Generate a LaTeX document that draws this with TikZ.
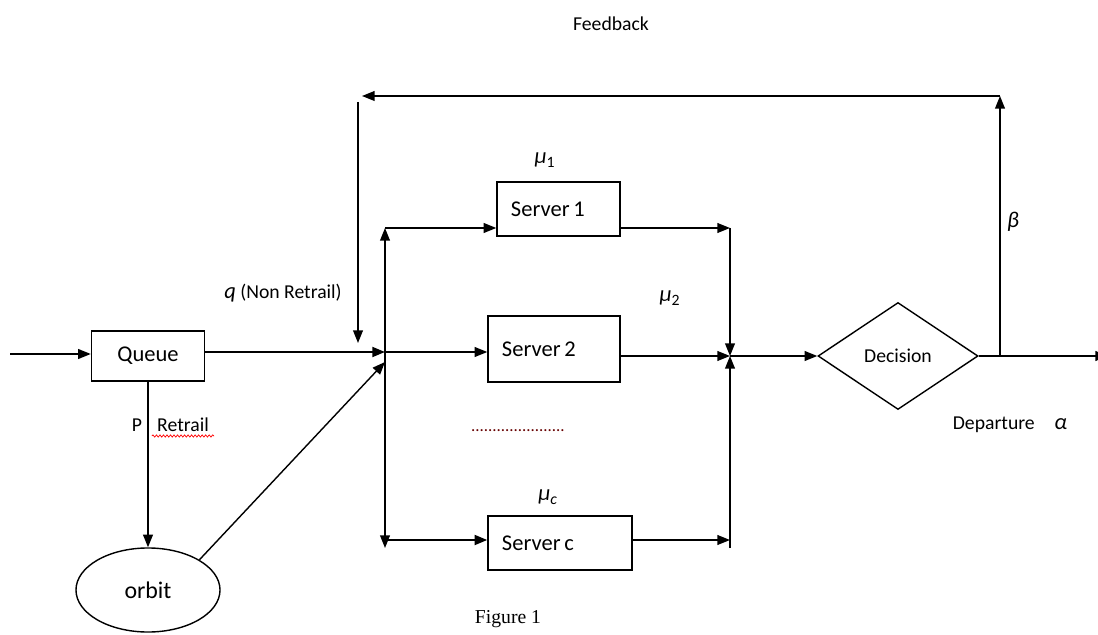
\documentclass[tikz,border=0pt]{standalone}
\usepackage{fontspec}
\setmainfont{Carlito}
\newfontfamily\figfont{Liberation Serif}
\usetikzlibrary{arrows.meta,shapes.geometric,decorations.pathmorphing}

\begin{document}
\begin{tikzpicture}[x=0.025cm, y=-0.025cm, >={Triangle[length=9pt,width=7pt]}, line width=1pt,
  box/.style={draw, inner sep=0pt, font=\fontsize{16}{19}\selectfont},
  srv/.style={draw, inner xsep=0.35cm, inner ysep=0pt, align=left, font=\fontsize{16}{19}\selectfont},
  lbl/.style={font=\fontsize{14}{17}\selectfont},
  greek/.style={font=\fontsize{16}{19}\selectfont\itshape}]
  \useasboundingbox (0,0) rectangle (1098,635);

  % Queue and orbit
  \node[box, minimum width=2.825cm, minimum height=1.25cm] (queue) at (148,356) {Queue};
  \node[draw, ellipse, minimum width=3.6cm, minimum height=2.1cm, font=\fontsize{17}{20}\selectfont] (orbit) at (148,590) {orbit};

  % Servers and decision
  \node[srv, text width=2.375cm, minimum height=1.35cm] (s1) at (558.5,209) {Server\,1};
  \node[srv, text width=2.6cm, minimum height=1.65cm] (s2) at (554,349) {Server\,2};
  \node[srv, text width=2.9cm, minimum height=1.35cm] (sc) at (560,543) {Server\,c};
  \node[draw, diamond, aspect=1.5, inner sep=0pt, minimum width=4cm, minimum height=2.675cm, lbl] (dec) at (898,356) {Decision};

  % Junction points
  \coordinate (in) at (10,354);
  \coordinate (J) at (385,352);
  \coordinate (Jo) at (385,362);
  \coordinate (Jt) at (385,228);
  \coordinate (Jb) at (385,548);
  \coordinate (Jc) at (385,540);
  \coordinate (K) at (730,356);
  \coordinate (Kt) at (730,228);
  \coordinate (Kb) at (730,548);
  \coordinate (Kc) at (730,540);
  \coordinate (out) at (1108,356);
  \coordinate (fbA) at (1000,356);
  \coordinate (fbB) at (1000,96);
  \coordinate (fbC) at (362,96);
  \coordinate (fbD) at (358,102);
  \coordinate (fbE) at (358,343);

  % Arrival and retrial
  \draw[->] (in) -- (queue.west |- in);
  \draw[->, line width=1.6pt] (queue.east |- J) -- (J);
  \draw[->] (queue.south) -- (orbit.north);
  \draw[->] (orbit.north east) -- (Jo);

  % To the servers
  \draw[->] (J) -- (Jt);
  \draw[->] (J) -- (Jb);
  \draw[->] (Jt) -- (s1.west |- Jt);
  \draw[->] (J) -- (J -| s2.west);
  \draw[->, line width=1.6pt] (Jc) -- (Jc -| sc.west);

  % From the servers
  \draw[->] (s1.east |- Kt) -- (Kt);
  \draw[->] (s2.east |- K) -- (K);
  \draw[->] (sc.east |- Kc) -- (Kc);
  \draw[->] (Kt) -- (K);
  \draw[->] (Kb) -- (K);
  \draw[->] (K) -- (dec.west);
  \draw[->] (dec.east) -- (out);

  % Feedback loop
  \draw[->] (fbA) -- (fbB);
  \draw[->] (fbB) -- (fbC);
  \draw[->] (fbD) -- (fbE);

  % Labels
  \node[lbl] (fbtext) at (611,24) {Feedback};
  \node[greek] (mu1) at (545,160) {μ\textsubscript{\upshape 1}};
  \node[greek] (mu2) at (670,298) {μ\textsubscript{\upshape 2}};
  \node[greek] (muc) at (548,497) {μ\textsubscript{c}};
  \node[greek] (beta) at (1013,222) {β};
  \node[lbl] (qlbl) at (283,293) {\textit{\fontsize{16}{19}\selectfont q} (Non Retrail)};
  \node[lbl] (plbl) at (137,425) {P};
  \node[lbl] (ret) at (183,425) {Retrail};
  \draw[red, line width=0.5pt, decorate, decoration={snake, amplitude=0.8pt, segment length=2.5pt}]
    ([yshift=-3pt]ret.base west) -- ([yshift=-3pt]ret.base east);
  \node[lbl] (dep) at (1010,425) {Departure\quad\textit{\fontsize{16}{19}\selectfont α}};
  \node[font=\fontsize{12}{14}\selectfont, text=black!60!red] (dots) at (518,431) {......................};
  \node[font=\fontsize{14}{17}\figfont] (fig) at (508,619) {Figure 1};
\end{tikzpicture}
\end{document}
